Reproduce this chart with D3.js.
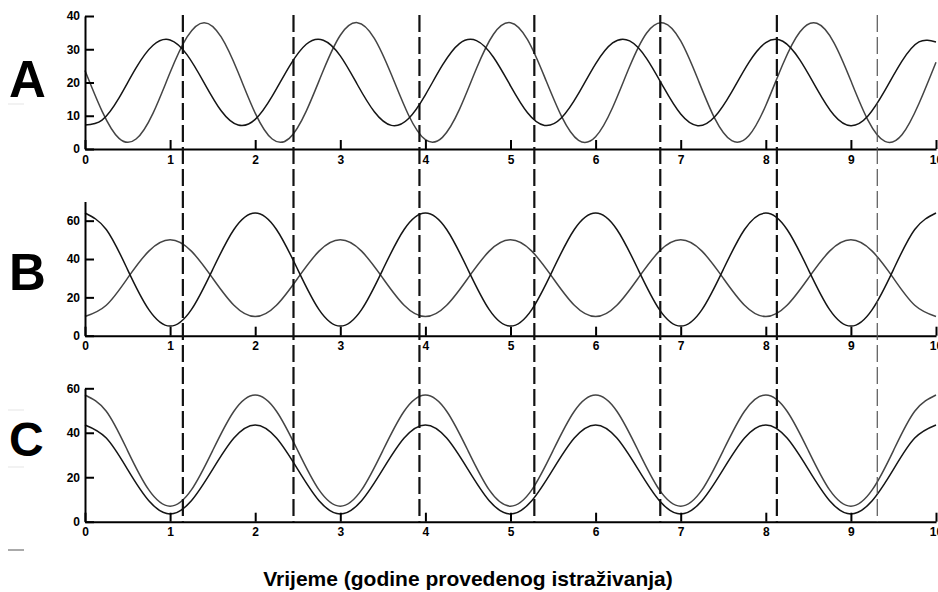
<!DOCTYPE html>
<html>
<head>
<meta charset="utf-8">
<script src="https://cdn.jsdelivr.net/npm/d3@7"></script>
<style>
  html, body { margin: 0; padding: 0; background: #fff; }
  svg { display: block; }
  .axis text { font-family: "Liberation Sans", Arial, sans-serif; font-weight: bold; font-size: 12px; fill: #000; }
  .axis path, .axis line { stroke: #000; stroke-width: 2; }
</style>
</head>
<body>
<svg id="chart" width="938" height="592"></svg>
<script>
// time axis (years) for each panel
const timeA = [0, 0.2, 0.4, 0.6, 0.8, 1, 1.2, 1.4, 1.6, 1.8, 2, 2.2, 2.4, 2.6, 2.8, 3, 3.2, 3.4, 3.6, 3.8,
    4, 4.2, 4.4, 4.6, 4.8, 5, 5.2, 5.4, 5.6, 5.8, 6, 6.2, 6.4, 6.6, 6.8, 7, 7.2, 7.4, 7.6, 7.8,
    8, 8.2, 8.4, 8.6, 8.8, 9, 9.2, 9.4, 9.6, 9.8, 10];
const timeBC = [0, 0.25, 0.5, 0.75, 1, 1.25, 1.5, 1.75, 2, 2.25, 2.5, 2.75, 3, 3.25, 3.5, 3.75,
    4, 4.25, 4.5, 4.75, 5, 5.25, 5.5, 5.75, 6, 6.25, 6.5, 6.75, 7, 7.25, 7.5, 7.75,
    8, 8.25, 8.5, 8.75, 9, 9.25, 9.5, 9.75, 10];

// panel A
const seriesA1 = [7.2, 8.7, 15.4, 24.4, 31.2, 32.8, 28.3, 19.9, 11.5, 7.2,
    8.9, 15.9, 24.8, 31.5, 32.7, 28.0, 19.4, 11.2, 7.1, 9.1,
    16.3, 25.2, 31.7, 32.6, 27.6, 19.0, 10.9, 7.1, 9.4, 16.7,
    25.6, 31.9, 32.5, 27.2, 18.5, 10.5, 7.0, 9.7, 17.2, 26.0,
    32.0, 32.4, 26.8, 18.1, 10.2, 7.0, 9.9, 17.6, 26.4, 32.2, 32.2];
const seriesA2 = [23.6, 11.4, 3.2, 3.0, 10.8, 23.0, 33.7, 38.0, 33.7, 23.0,
    10.8, 3.0, 3.2, 11.4, 23.6, 34.2, 38.0, 33.3, 22.4, 10.3,
    2.8, 3.5, 11.9, 24.2, 34.5, 38.0, 32.9, 21.7, 9.8, 2.6,
    3.7, 12.5, 24.8, 34.9, 37.9, 32.5, 21.1, 9.2, 2.5, 4.0,
    13.1, 25.5, 35.2, 37.8, 32.0, 20.5, 8.7, 2.3, 4.3, 13.7, 26.1];

// panel B
const seriesB1 = [64, 55.4, 34.5, 13.6, 5, 13.6, 34.5, 55.4,
    64, 55.4, 34.5, 13.6, 5, 13.6, 34.5, 55.4,
    64, 55.4, 34.5, 13.6, 5, 13.6, 34.5, 55.4,
    64, 55.4, 34.5, 13.6, 5, 13.6, 34.5, 55.4,
    64, 55.4, 34.5, 13.6, 5, 13.6, 34.5, 55.4, 64];
const seriesB2 = [10, 15.9, 30, 44.1, 50, 44.1, 30, 15.9,
    10, 15.9, 30, 44.1, 50, 44.1, 30, 15.9,
    10, 15.9, 30, 44.1, 50, 44.1, 30, 15.9,
    10, 15.9, 30, 44.1, 50, 44.1, 30, 15.9,
    10, 15.9, 30, 44.1, 50, 44.1, 30, 15.9, 10];

// panel C
const seriesC1 = [57, 49.7, 32, 14.3, 7, 14.3, 32, 49.7,
    57, 49.7, 32, 14.3, 7, 14.3, 32, 49.7,
    57, 49.7, 32, 14.3, 7, 14.3, 32, 49.7,
    57, 49.7, 32, 14.3, 7, 14.3, 32, 49.7,
    57, 49.7, 32, 14.3, 7, 14.3, 32, 49.7, 57];
const seriesC2 = [43.5, 37.6, 23.5, 9.4, 3.5, 9.4, 23.5, 37.6,
    43.5, 37.6, 23.5, 9.4, 3.5, 9.4, 23.5, 37.6,
    43.5, 37.6, 23.5, 9.4, 3.5, 9.4, 23.5, 37.6,
    43.5, 37.6, 23.5, 9.4, 3.5, 9.4, 23.5, 37.6,
    43.5, 37.6, 23.5, 9.4, 3.5, 9.4, 23.5, 37.6, 43.5];

const xTicks = [0, 1, 2, 3, 4, 5, 6, 7, 8, 9, 10];
const yTicksA = [0, 10, 20, 30, 40];
const yTicksB = [0, 20, 40, 60];
const yTicksC = [0, 20, 40, 60];
const markers = [1.15, 2.45, 3.93, 5.28, 6.76, 8.13, 9.31];
const panelNames = ['A', 'B', 'C'];
const xTitle = 'Vrijeme (godine provedenog istraživanja)';

const svg = d3.select('#chart');

const xScale = d3.scaleLinear().domain([0, 10]).range([85, 936]);

const panels = [
    { name: panelNames[0], max: 40, top: 16, bottom: 149, ticks: yTicksA, time: timeA,
      series: [seriesA2, seriesA1], labelY: 97, size: 51 },
    { name: panelNames[1], max: 70, top: 201.5, bottom: 335.7, ticks: yTicksB, time: timeBC,
      series: [seriesB2, seriesB1], labelY: 290, size: 51 },
    { name: panelNames[2], max: 60, top: 388.3, bottom: 521.7, ticks: yTicksC, time: timeBC,
      series: [seriesC1, seriesC2], labelY: 456, size: 48 }
];

const lineColors = ['#444', '#151515'];

panels.forEach(p => {
    const yScale = d3.scaleLinear().domain([0, p.max]).range([p.bottom, p.top]);

    const line = d3.line()
        .x((d, i) => xScale(p.time[i]))
        .y(d => yScale(d))
        .curve(d3.curveNatural);

    p.series.forEach((s, k) => {
        svg.append('path')
            .datum(s)
            .attr('fill', 'none')
            .attr('stroke', lineColors[k])
            .attr('stroke-width', 1.5)
            .attr('d', line);
    });

    svg.append('g')
        .attr('class', 'axis')
        .attr('transform', `translate(0, ${p.bottom})`)
        .call(d3.axisBottom(xScale).tickValues(xTicks).tickFormat(d3.format('d'))
            .tickSizeInner(-9).tickSizeOuter(0).tickPadding(6));

    svg.append('g')
        .attr('class', 'axis')
        .attr('transform', `translate(${xScale(0)}, 0)`)
        .call(d3.axisLeft(yScale).tickValues(p.ticks).tickFormat(d3.format('d'))
            .tickSizeInner(-9).tickSizeOuter(0).tickPadding(5));

    svg.append('text')
        .attr('x', 9)
        .attr('y', p.labelY)
        .attr('font-family', '"Liberation Sans", Arial, sans-serif')
        .attr('font-weight', 'bold')
        .attr('font-size', p.size)
        .text(p.name);
});

// dashed event lines across all three panels
svg.append('g')
    .selectAll('line')
    .data(markers)
    .join('line')
    .attr('x1', d => xScale(d))
    .attr('x2', d => xScale(d))
    .attr('y1', 15)
    .attr('y2', 522)
    .attr('stroke', (d, i) => i === markers.length - 1 ? '#555' : '#111')
    .attr('stroke-width', (d, i) => i === markers.length - 1 ? 1.2 : 2.2)
    .attr('stroke-dasharray', '17,5');

// scan leftovers near the panel letters
[104, 410, 467].forEach(y => {
    svg.append('line').attr('x1', 8).attr('x2', 24).attr('y1', y).attr('y2', y)
        .attr('stroke', '#eee').attr('stroke-width', 1.5);
});
svg.append('line').attr('x1', 8).attr('x2', 24).attr('y1', 550).attr('y2', 550)
    .attr('stroke', '#aaa').attr('stroke-width', 2);

svg.append('text')
    .attr('x', 468)
    .attr('y', 586)
    .attr('text-anchor', 'middle')
    .attr('font-family', '"Liberation Sans", Arial, sans-serif')
    .attr('font-weight', 'bold')
    .attr('font-size', 21)
    .text(xTitle);
</script>
</body>
</html>
